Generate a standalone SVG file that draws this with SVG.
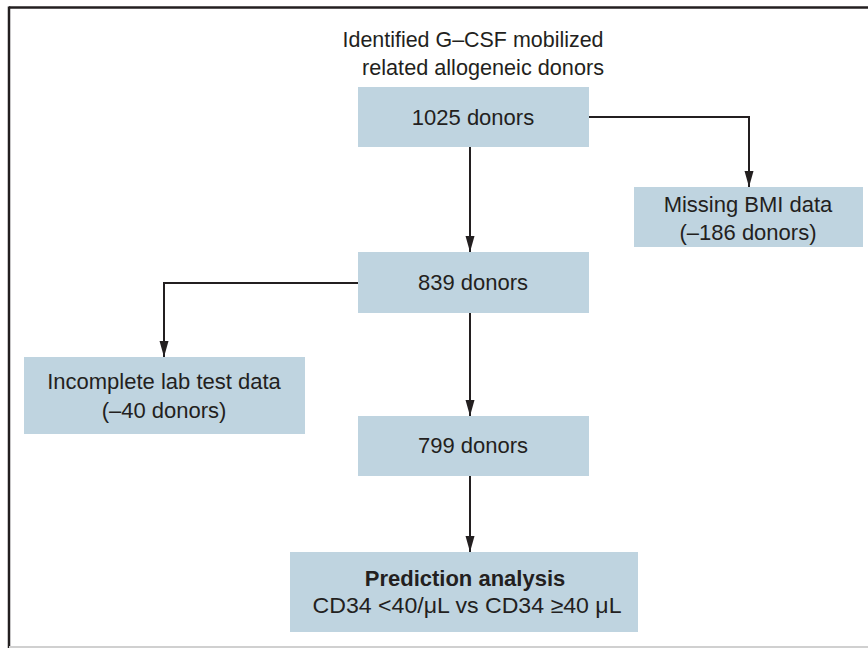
<svg xmlns="http://www.w3.org/2000/svg" width="868" height="648" viewBox="0 0 868 648">
<style>
.box{fill:#bfd4e0}
.t{font-family:"Liberation Sans",Arial,sans-serif;font-size:22px;fill:#231f20;text-anchor:middle}
.b{font-weight:bold}
.c{fill:none;stroke:#231f20;stroke-width:2}
</style>
<defs>
<marker id="a" viewBox="0 0 16 10" refX="16" refY="5" markerWidth="16" markerHeight="10" markerUnits="userSpaceOnUse" orient="auto">
<path d="M0,0.5 L16,5 L0,9.5 Z" fill="#231f20"/>
</marker>
</defs>
<rect x="0" y="0" width="868" height="648" fill="#ffffff"/>
<g id="frame">
<line x1="9" y1="7.5" x2="868" y2="7.5" stroke="#231f20" stroke-width="2.5"/>
<line x1="9" y1="6.5" x2="9" y2="648" stroke="#231f20" stroke-width="2.5"/>
<line x1="9" y1="647" x2="868" y2="647" stroke="#d0d0d0" stroke-width="2"/>
</g>
<g id="title">
<text class="t" x="473" y="47" textLength="261" lengthAdjust="spacingAndGlyphs">Identified G–CSF mobilized</text>
<text class="t" x="483" y="75" textLength="242" lengthAdjust="spacingAndGlyphs">related allogeneic donors</text>
</g>
<g id="connectors">
<path class="c" d="M589,117 H749 V187" marker-end="url(#a)"/>
<path class="c" d="M470,147 V252" marker-end="url(#a)"/>
<path class="c" d="M358,283 H164 V357" marker-end="url(#a)"/>
<path class="c" d="M470,313 V416" marker-end="url(#a)"/>
<path class="c" d="M470,476 V552" marker-end="url(#a)"/>
</g>
<g id="n1025">
<rect class="box" x="358" y="87" width="231" height="60"/>
<text class="t" x="473" y="125">1025 donors</text>
</g>
<g id="nMissing">
<rect class="box" x="634" y="187" width="229" height="60"/>
<text class="t" x="748" y="212">Missing BMI data</text>
<text class="t" x="748" y="240">(–186 donors)</text>
</g>
<g id="n839">
<rect class="box" x="358" y="252" width="231" height="61"/>
<text class="t" x="473" y="290">839 donors</text>
</g>
<g id="nIncomplete">
<rect class="box" x="24" y="357" width="281" height="77"/>
<text class="t" x="164" y="389">Incomplete lab test data</text>
<text class="t" x="164" y="418">(–40 donors)</text>
</g>
<g id="n799">
<rect class="box" x="358" y="416" width="231" height="60"/>
<text class="t" x="473" y="453">799 donors</text>
</g>
<g id="nPrediction">
<rect class="box" x="290" y="552" width="348" height="80"/>
<text class="t b" x="465" y="586">Prediction analysis</text>
<text class="t" x="467" y="613" textLength="309" lengthAdjust="spacingAndGlyphs">CD34 &lt;40/μL vs CD34 ≥40 μL</text>
</g>
</svg>
